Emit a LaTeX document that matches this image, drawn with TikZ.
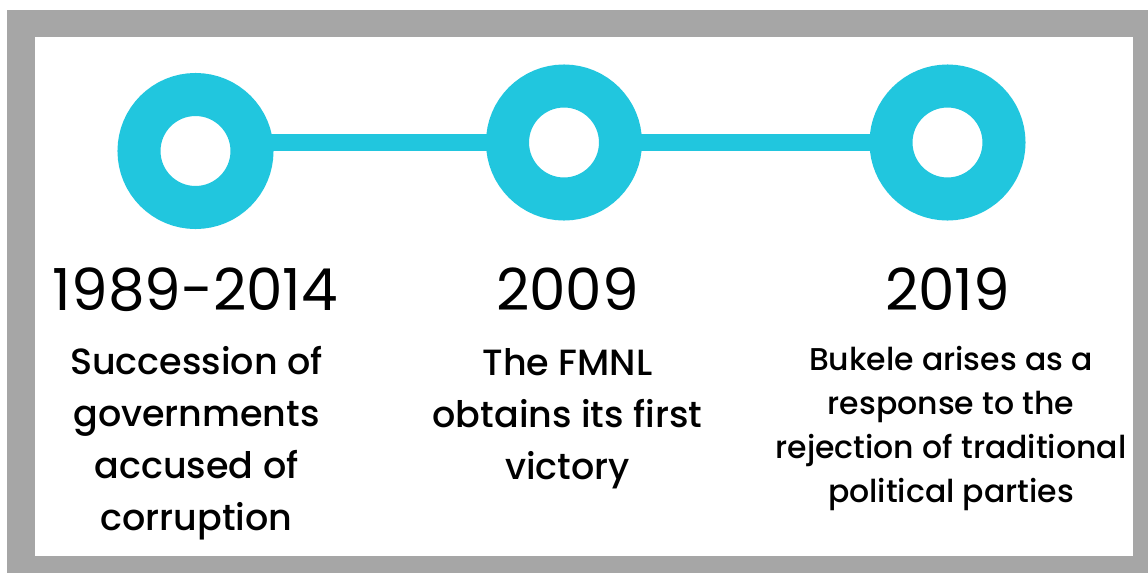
\documentclass[tikz,border=0pt]{standalone}
\usepackage{fontspec}
\setmainfont{Poppins}
\newfontfamily\medfont{Poppins Medium}
\usetikzlibrary{positioning,backgrounds}
\definecolor{tlcyan}{HTML}{21C6DE}
\definecolor{tlgray}{HTML}{A6A6A6}
\tikzset{
	ring/.style={circle,draw=tlcyan,fill=white,line width=43pt,minimum size=113pt,inner sep=0pt},
	yr/.style={anchor=base,inner sep=0pt,font=\fontsize{58}{58}\selectfont},
	txt/.style={anchor=base,align=center,inner sep=0pt,font=\medfont\fontsize{36.5}{52}\selectfont},
	smalltxt/.style={txt,font=\medfont\fontsize{31.5}{44}\selectfont},
	link/.style={draw=tlcyan,line width=17pt}
}

\begin{document}
\begin{tikzpicture}[x=1pt,y=-1pt]
	\useasboundingbox (0,0) rectangle (1148,573);
	% rings
	\foreach \n/\x/\y in {1/195.5/151,2/564/142.5,3/947.5/142.5}
		\node[ring] (r\n) at (\x,\y) {};
	% frame and the bar behind the rings
	\begin{scope}[on background layer]
		\fill[tlgray] (7,10) rectangle (1148,573);
		\fill[white] (35,37) rectangle (1132.5,556);
		\draw[link] (r1 |- r2) -- (r3);
	\end{scope}
	% years
	\node[yr] (y1) at (195.5,310) {1989-2014};
	\node[yr] (y2) at (567.5,310) {2009};
	\node[yr] (y3) at (947.5,310) {2019};
	% events (base = last line)
	\node[txt] (t1) at (196.5,530) {Succession of\\governments\\accused of\\corruption};
	\node[txt] (t2) at (567.5,479) {The FMNL\\obtains its first\\victory};
	\node[smalltxt] (t3) at (951,502) {Bukele arises as a\\response to the\\rejection of traditional\\political parties};
\end{tikzpicture}
\end{document}
